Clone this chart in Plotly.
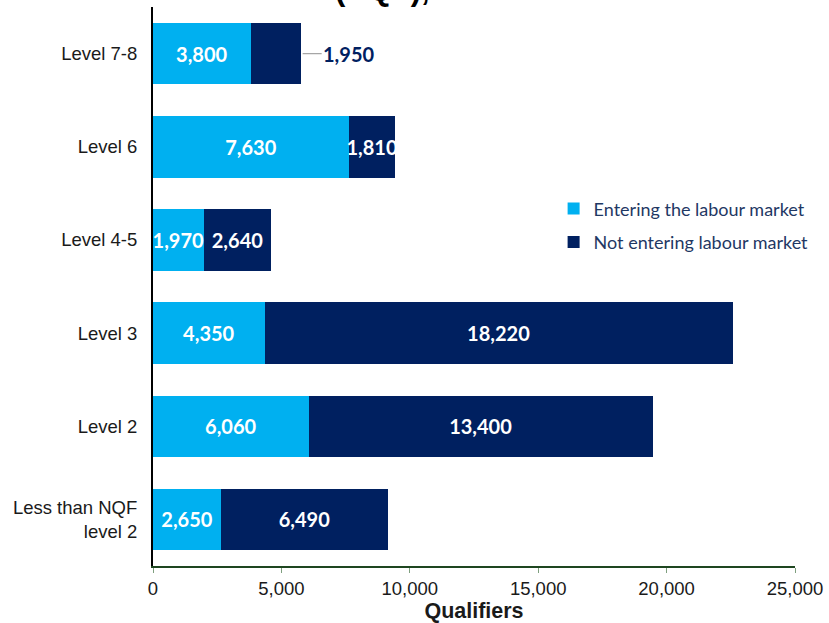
import plotly.graph_objects as go

categories = ["Level 7-8", "Level 6", "Level 4-5", "Level 3", "Level 2", "Less than NQF<br>level 2"]
entering = [3800, 7630, 1970, 4350, 6060, 2650]
not_entering = [1950, 1810, 2640, 18220, 13400, 6490]
x_ticks = [0, 5000, 10000, 15000, 20000, 25000]
title_text = "(NQF), 2019-2020"

LIGHT = "#00B0F0"
NAVY = "#002060"
LABEL_FONT = "Lato"
LABEL_SIZE = 20

def fmt(v):
    return f"{v:,}"

fig = go.Figure()
fig.add_trace(go.Bar(
    y=categories, x=entering, orientation="h", name="Entering the labour market",
    legendgroup="a",
    marker=dict(color=LIGHT, line=dict(width=0)),
    text=[fmt(v) for v in entering], textposition="inside", insidetextanchor="middle",
    textangle=0, textfont=dict(family=LABEL_FONT, size=LABEL_SIZE, color="white", weight="bold"),
    hoverinfo="skip",
))
# the first navy label is placed outside with a leader line (annotation below)
nav_text = ["" if i == 0 else fmt(v) for i, v in enumerate(not_entering)]
fig.add_trace(go.Bar(
    y=categories, x=not_entering, orientation="h", name="Not entering labour market",
    legendgroup="b",
    marker=dict(color=NAVY, line=dict(width=0)),
    text=nav_text, textposition="inside", insidetextanchor="middle",
    textangle=0, textfont=dict(family=LABEL_FONT, size=LABEL_SIZE, color="white", weight="bold"),
    hoverinfo="skip",
))

total0 = entering[0] + not_entering[0]
fig.add_annotation(
    x=total0, y=categories[0], xref="x", yref="y",
    text=f"<b>{fmt(not_entering[0])}</b>", showarrow=True, arrowhead=0,
    arrowcolor="#a6a6a6", arrowwidth=1.3, ax=48, ay=0, standoff=2,
    font=dict(family=LABEL_FONT, size=LABEL_SIZE, color=NAVY),
)

# partially visible chart title (cut off at top of picture)
fig.add_annotation(
    x=(333 - 153) / 642, y=(566 - 9) / 559, xref="paper", yref="paper",
    xanchor="left", yanchor="bottom",
    text=f"<b>{title_text}</b>", showarrow=False,
    font=dict(family="Arial", size=31, color="black"),
)

fig.update_layout(
    width=829, height=623,
    margin=dict(l=153, r=34, t=7, b=57),
    paper_bgcolor="white", plot_bgcolor="white",
    barmode="stack", bargap=0.34,
    uniformtext=dict(mode=False),
    showlegend=True,
    legend=dict(
        x=0.624, y=0.672, xanchor="left", yanchor="top",
        font=dict(family=LABEL_FONT, size=18, color="#1F3864"),
        bgcolor="rgba(0,0,0,0)", itemwidth=30, tracegroupgap=7,
        traceorder="grouped",
    ),
    font=dict(family="Arial", size=18.5, color="#1a1a1a"),
)
fig.update_traces(constraintext="none")
fig.update_xaxes(
    range=[0, 25000], tickvals=x_ticks, ticktext=[fmt(v) for v in x_ticks],
    showgrid=False, zeroline=False, showline=True, linecolor="#1e4620", linewidth=2,
    ticks="outside", ticklen=5, tickcolor="#7f9f7f", tickwidth=1,
    title=dict(text="<b>Qualifiers</b>", font=dict(family="Arial", size=21.5, color="#1a1a1a"), standoff=0),
    tickfont=dict(family="Arial", size=18.5, color="#1a1a1a"),
)
fig.update_yaxes(
    autorange="reversed", showgrid=False, zeroline=False, showline=True,
    linecolor="black", linewidth=2, ticks="", ticklabelstandoff=10,
    tickfont=dict(family="Arial", size=18.5, color="#1a1a1a"),
)
fig.write_html("out.html", config={"displayModeBar": False},
               post_script="document.body.style.margin='0';")
